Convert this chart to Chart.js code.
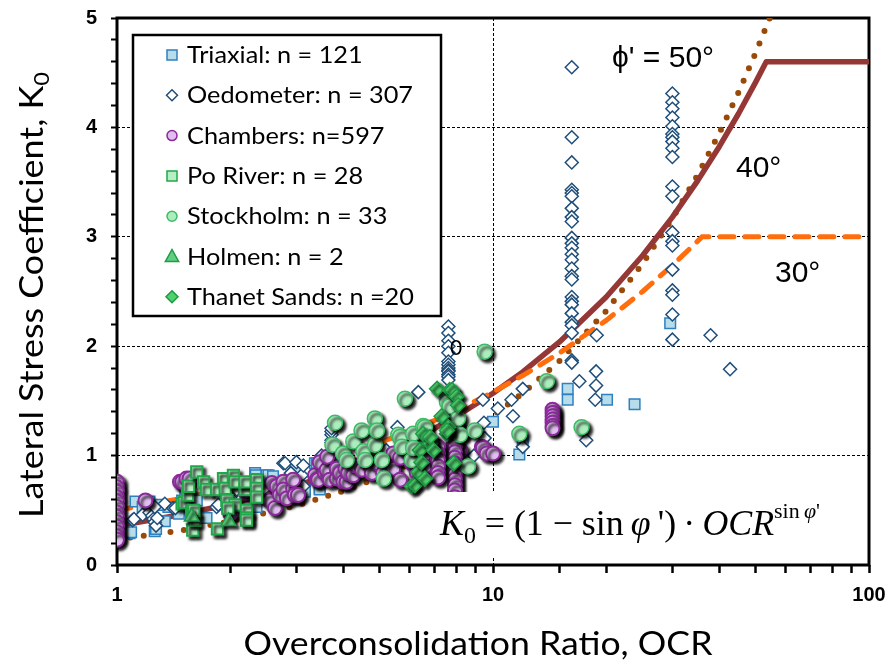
<!DOCTYPE html>
<html>
<head>
<meta charset="utf-8">
<script src="https://cdn.jsdelivr.net/npm/chart.js"></script>
<style>
html,body{margin:0;padding:0;background:#fff;}
#wrap{width:891px;height:664px;position:relative;}
</style>
</head>
<body>
<div id="wrap"><canvas id="c" width="891" height="664"></canvas></div>
<script>
// ---------- tick labels ----------
const xLabelValues = [1, 10, 100];
const yLabelValues = [0, 1, 2, 3, 4, 5];

// ---------- series: [OCR, K0] ----------
const triaxial = [[1.08,0.29],[1.09,0.30],[1.12,0.58],[1.17,0.53],[1.22,0.58],[1.26,0.31],[1.27,0.33],[1.30,0.55],[1.34,0.40],[1.37,0.53],[1.46,0.47],[1.49,0.59],[1.52,0.62],[1.56,0.62],[1.63,0.59],[1.71,0.43],[1.73,0.43],[2.02,0.69],[2.33,0.84],[2.34,0.82],[2.35,0.53],[2.42,0.62],[2.50,0.82],[2.53,0.82],[2.60,0.81],[2.88,0.78],[2.92,0.76],[2.98,0.87],[3.16,0.69],[3.16,0.67],[3.36,0.93],[3.40,0.93],[3.46,0.70],[3.46,0.69],[3.76,0.93],[4.25,0.84],[4.30,0.82],[4.85,0.82],[5.10,0.87],[10.0,1.31],[11.75,1.01],[12.0,1.13],[15.8,1.61],[15.8,1.51],[20.1,1.51],[23.8,1.47],[29.6,2.21]];

const oedometer = [[1.10,0.41],[1.11,0.42],[1.17,0.46],[1.22,0.48],[1.24,0.45],[1.25,0.42],[1.26,0.39],[1.27,0.36],[1.28,0.43],[1.26,0.53],[1.34,0.56],[1.41,0.52],[1.43,0.52],[1.84,0.53],[1.86,0.55],[2.08,0.68],[2.08,0.69],[2.47,0.70],[2.77,0.93],[2.80,0.93],[2.90,0.84],[3.0,0.94],[3.10,0.82],[3.13,0.91],[3.13,0.72],[3.5,1.0],[3.68,0.93],[3.72,1.12],[3.72,1.14],[3.72,1.19],[3.72,1.22],[3.72,1.25],[3.88,0.81],[5.2,1.05],[5.57,1.26],[6.33,1.58],
[7.61,2.18],[7.61,2.12],[7.61,2.05],[7.61,2.0],[7.61,1.94],[7.61,1.86],[7.61,1.83],[7.61,1.80],[7.61,1.78],[7.61,1.77],[7.61,1.74],[7.61,1.72],[7.61,1.69],[7.61,1.42],
[9.4,1.51],[9.46,1.30],[9.5,1.16],[8.9,1.0],[10.3,1.43],[11.2,1.51],[11.3,1.36],[12.0,1.61],[12.0,1.08],
[16.2,4.55],[16.2,3.91],[16.2,3.68],[16.2,3.43],[16.2,3.40],[16.2,3.37],[16.2,3.26],[16.2,3.18],[16.2,3.14],[16.2,2.99],[16.2,2.94],[16.2,2.90],[16.2,2.84],[16.2,2.79],[16.2,2.71],[16.2,2.64],[16.2,2.61],[16.2,2.45],[16.2,2.41],[16.2,2.38],[16.2,2.30],[16.2,2.22],[16.2,2.19],[16.2,2.12],[16.2,1.87],[16.2,1.85],
[16.97,1.68],[17.7,1.14],[18.87,2.10],[18.8,1.77],[18.8,1.64],[18.7,1.51],
[30,4.31],[30,4.23],[30,4.17],[30,4.09],[30,4.01],[30,3.94],[30,3.91],[30,3.87],[30,3.81],[30,3.73],[30,3.46],[30,3.37],[30,3.04],[30,2.96],[30,2.92],[30,2.70],[30,2.51],[30,2.47],[30,2.29],[30,2.06],
[37.9,2.10],[42.7,1.79]];

const chambers = [[1,0.76],[1,0.71],[1,0.67],[1,0.62],[1,0.58],[1,0.53],[1,0.48],[1,0.44],[1,0.39],[1,0.35],[1,0.30],[1,0.26],[1,0.23],
[1.19,0.59],[1.47,0.76],[1.49,0.76],[1.53,0.79],[1.56,0.79],[2.0,0.47],[2.20,0.66],[2.21,0.69],[2.54,0.59],[2.58,0.75],[2.63,0.52],[2.66,0.72],[2.71,0.64],[2.77,0.76],[2.77,0.69],[2.83,0.61],[2.94,0.70],[2.94,0.78],[2.97,0.64],[3.03,0.64],[3.36,0.82],[3.40,0.78],[3.43,0.78],[3.46,0.94],[3.57,0.84],[3.61,0.87],[3.62,0.99],[3.68,0.78],[3.84,0.79],[3.84,0.88],[3.92,0.84],[4.0,0.76],[4.05,0.88],[4.08,0.76],[4.12,0.84],[4.25,0.82],[4.30,0.91],[4.48,0.87],[4.62,0.94],[4.62,0.96],[4.76,0.84],[4.91,0.93],[5.1,0.84],[5.43,1.02],[5.43,0.88],[5.66,0.98],[5.66,0.78],[5.90,1.04],[6.08,0.93],[6.27,0.84],[6.52,0.99],[6.59,0.90],[6.87,1.11],[6.94,1.04],[7.16,0.93],[7.24,1.02],[7.78,1.22],[7.86,1.11],[8.17,1.05],[8.26,1.22],[9.34,1.08],[9.4,1.07],[9.62,1.02],[10.0,1.02],
[7.92,1.33],[7.92,1.28],[7.92,1.23],[7.92,1.18],[7.92,1.13],[7.92,1.08],[7.92,1.03],[7.92,0.98],[7.92,0.93],[7.92,0.88],[7.92,0.83],[7.92,0.78],[7.92,0.73],[7.92,0.68],[7.92,0.62],
[7.14,1.08],[7.14,1.02],[7.14,0.96],[7.14,0.90],[7.14,0.84],[7.14,0.80],
[14.4,1.42],[14.4,1.39],[14.4,1.36],[14.4,1.33],[14.4,1.30],[14.4,1.27],[14.4,1.25]];

const poRiver = [[1.49,0.56],[1.51,0.57],[1.54,0.64],[1.55,0.72],[1.58,0.49],[1.59,0.32],[1.61,0.41],[1.63,0.85],[1.70,0.76],[1.73,0.69],[1.84,0.69],[1.85,0.33],[1.92,0.79],[1.94,0.70],[1.96,0.59],[2.04,0.82],[2.06,0.55],[2.06,0.76],[2.19,0.69],[2.19,0.76],[2.21,0.50],[2.21,0.43],[2.35,0.78],[2.35,0.70],[2.35,0.62],[1.60,0.50],[1.97,0.52],[2.21,0.41]];

const stockholm = [[3.74,1.10],[3.80,1.30],[3.99,1.02],[4.08,0.96],[4.25,1.13],[4.47,1.23],[4.52,1.04],[4.57,0.96],[4.85,1.34],[4.85,1.10],[4.91,1.23],[5.06,0.96],[5.12,0.79],[5.60,1.19],[5.66,1.17],[5.72,1.08],[5.83,1.52],[6.08,0.96],[6.13,1.20],[6.13,1.07],[6.52,1.27],[6.59,1.26],[6.80,1.13],[7.54,1.49],[7.67,1.45],[8.07,1.34],[8.17,1.19],[8.58,0.90],[8.93,1.23],[9.5,1.95],[11.75,1.20],[13.9,1.68],[17.2,1.26]];

const holmen = [[1.58,0.44],[1.98,0.40]];

const thanet = [[6.08,0.72],[6.2,0.73],[6.33,0.85],[6.39,1.05],[6.45,0.94],[6.52,1.20],[6.59,0.79],[6.8,1.11],[6.8,1.17],[6.94,1.05],[7.1,1.61],[7.3,1.36],[7.54,1.20],[7.6,1.26],[7.67,1.60],[7.78,1.60],[7.86,0.93],[8.0,1.54],[8.07,1.46],[7.54,1.23]];

// ---------- curves K0 = (1 - sin phi') OCR^sin phi' ----------
const curve40 = [[1,0.357],[1.5,0.464],[2,0.558],[3,0.724],[4,0.871],[5,1.005],[6,1.130],[7,1.248],[8,1.360],[10,1.570],[12,1.765],[15,2.037],[20,2.450],[25,2.829],[30,3.180],[35,3.511],[40,3.826],[45,4.127],[50,4.416],[53.3,4.6],[100,4.6]];
const curve50 = [[1,0.234],[1.5,0.319],[2,0.398],[3,0.543],[4,0.677],[5,0.803],[6,0.923],[7,1.039],[8,1.151],[10,1.365],[12,1.570],[15,1.862],[20,2.322],[25,2.755],[30,3.167],[35,3.564],[40,3.948],[45,4.321],[50,4.685],[54.44,5.0]];
const curve30 = [[1,0.5],[1.5,0.612],[2,0.707],[3,0.866],[4,1.0],[5,1.118],[6,1.225],[7,1.323],[8,1.414],[10,1.581],[12,1.732],[15,1.936],[20,2.236],[25,2.5],[30,2.739],[36,3.0],[100,3.0]];

const legendLabels = ['Triaxial: n = 121','Oedometer: n = 307','Chambers: n=597','Po River: n = 28','Stockholm: n = 33','Holmen: n = 2','Thanet Sands: n =20'];

const pts = a => a.map(p => ({x: p[0], y: p[1]}));

const seriesStyles = [
  {label:legendLabels[0], data:triaxial, pointStyle:'rect', r:7.5, bg:'#B7DDEA', bd:'#2F80C0', bw:1.5, shadow:false, order:7},
  {label:legendLabels[1], data:oedometer, pointStyle:'rectRot', r:6.5, bg:'#FFFFFF', bd:'#1F4E79', bw:1.5, shadow:false, order:6},
  {label:legendLabels[2], data:chambers, pointStyle:'circle', r:7, bg:'#E2BDF0', bd:'#8A2A9A', bw:2, shadow:true, order:5},
  {label:legendLabels[3], data:poRiver, pointStyle:'rect', r:8, bg:'#B5F0C4', bd:'#1FA84A', bw:2, shadow:true, order:4},
  {label:legendLabels[4], data:stockholm, pointStyle:'circle', r:7.5, bg:'#ACEDBE', bd:'#3DBB66', bw:1.5, shadow:true, order:3},
  {label:legendLabels[5], data:holmen, pointStyle:'triangle', r:8.5, bg:'#60CF80', bd:'#1F9A48', bw:1.5, shadow:true, order:2},
  {label:legendLabels[6], data:thanet, pointStyle:'rectRot', r:7.5, bg:'#4ED16E', bd:'#1E9944', bw:1.5, shadow:true, order:1}
];

const datasets = [
  {label:'phi40', data:pts(curve40), showLine:true, pointRadius:0, borderColor:'#953735', borderWidth:5.5, borderJoinStyle:'round', fill:false, order:10, tension:0},
  {label:'phi50', data:pts(curve50), showLine:true, pointRadius:0, borderColor:'#9A4A08', borderWidth:6, borderDash:[0,13.5], borderCapStyle:'round', fill:false, order:11, tension:0},
  {label:'phi30', data:pts(curve30), showLine:true, pointRadius:0, borderColor:'#FF6D0D', borderWidth:5, borderDash:[14,11], borderCapStyle:'round', fill:false, order:9, tension:0}
];
seriesStyles.forEach(s => datasets.push({
  label:s.label, data:pts(s.data), showLine:false, pointStyle:s.pointStyle, pointRadius:s.r,
  pointBackgroundColor:s.bg, pointBorderColor:s.bd, pointBorderWidth:s.bw,
  backgroundColor:s.bg, borderColor:s.bd, shadow:s.shadow, order:s.order
}));

function isInt(v){ return Math.abs(v - Math.round(v)) < 1e-6; }

function drawMarker(ctx, style, x, y, r, fill, stroke, lw){
  ctx.beginPath();
  if (style === 'rect') { ctx.rect(x-r, y-r, 2*r, 2*r); }
  else if (style === 'rectRot') { ctx.moveTo(x, y-r); ctx.lineTo(x+r, y); ctx.lineTo(x, y+r); ctx.lineTo(x-r, y); ctx.closePath(); }
  else if (style === 'circle') { ctx.arc(x, y, r, 0, Math.PI*2); }
  else if (style === 'triangle') { ctx.moveTo(x, y-r); ctx.lineTo(x+r*0.95, y+r*0.7); ctx.lineTo(x-r*0.95, y+r*0.7); ctx.closePath(); }
  ctx.fillStyle = fill; ctx.fill();
  ctx.lineWidth = lw; ctx.strokeStyle = stroke; ctx.stroke();
}

const shadowPlugin = {
  id:'shadowPlugin',
  beforeDatasetDraw(chart, args){
    const ds = chart.data.datasets[args.index];
    if (ds.shadow) { const c = chart.ctx; c.save(); c.shadowColor='rgba(0,0,0,0.95)'; c.shadowBlur=3; c.shadowOffsetX=3; c.shadowOffsetY=3; }
  },
  afterDatasetDraw(chart, args){
    const ds = chart.data.datasets[args.index];
    if (ds.shadow) chart.ctx.restore();
  }
};

const framePlugin = {
  id:'framePlugin',
  beforeDatasetsDraw(chart){
    const {ctx, chartArea:a} = chart;
    ctx.save();
    ctx.strokeStyle = '#000'; ctx.lineWidth = 3;
    ctx.strokeRect(a.left, a.top, a.right - a.left, a.bottom - a.top);
    ctx.restore();
  }
};

const overlayPlugin = {
  id:'overlayPlugin',
  afterDatasetsDraw(chart){
    const ctx = chart.ctx;
    ctx.save();
    // formula box (white background)
    ctx.fillStyle = '#fff';
    ctx.fillRect(436, 492, 400, 64);
    const S = 36;
    const pieces = [
      {t:'K', f:'italic '+S+'px "Liberation Serif"', dy:0},
      {t:'0', f:Math.round(S*0.66)+'px "Liberation Serif"', dy:8},
      {t:' = (1 \u2212 sin\u2009', f:S+'px "Liberation Serif"', dy:0},
      {t:'\u03C6', f:'italic '+S+'px "Liberation Serif"', dy:0},
      {t:'\u2009\')\u2009\u00B7\u2009', f:S+'px "Liberation Serif"', dy:0},
      {t:'OCR', f:'italic '+S+'px "Liberation Serif"', dy:0},
      {t:'sin\u2009', f:Math.round(S*0.62)+'px "Liberation Serif"', dy:-17},
      {t:'\u03C6', f:'italic '+Math.round(S*0.62)+'px "Liberation Serif"', dy:-17},
      {t:'\'', f:Math.round(S*0.62)+'px "Liberation Serif"', dy:-17}
    ];
    let total = 0;
    pieces.forEach(p => { ctx.font = p.f; p.w = ctx.measureText(p.t).width; total += p.w; });
    const sx = 380 / total;
    ctx.fillStyle = '#000'; ctx.textBaseline = 'alphabetic'; ctx.textAlign = 'left';
    ctx.save(); ctx.translate(440, 535); ctx.scale(sx, 1);
    let cx = 0;
    pieces.forEach(p => { ctx.font = p.f; ctx.fillText(p.t, cx, p.dy); cx += p.w; });
    ctx.restore();

    // angle annotations
    ctx.font = '30px "Liberation Sans"';
    ctx.fillText('\u03D5\' = 50\u00B0', 612, 67);
    ctx.fillText('40\u00B0', 736, 177);
    ctx.fillText('30\u00B0', 775, 282);
    // stray label
    ctx.font = '21px Lato';
    ctx.fillText('0', 450, 355);

    // legend
    ctx.fillStyle = '#fff';
    ctx.fillRect(133, 35, 308, 281);
    ctx.strokeStyle = '#000'; ctx.lineWidth = 2.5;
    ctx.strokeRect(133, 35, 308, 281);
    ctx.font = '23px Lato';
    const ref = ctx.measureText(legendLabels[1]).width;
    const lsx = 226 / ref;
    const legendR = [5, 5.5, 5, 5, 5, 7, 6];
    seriesStyles.forEach((s, i) => {
      const y = 55 + i * 40.3;
      drawMarker(ctx, s.pointStyle, 172, y, legendR[i], s.bg, s.bd, 1.5);
      ctx.fillStyle = '#000';
      ctx.save(); ctx.translate(187, y + 8); ctx.scale(lsx, 1);
      ctx.fillText(s.label, 0, 0);
      ctx.restore();
    });
    ctx.restore();
  },
  afterDraw(chart){
    const ctx = chart.ctx;
    ctx.save();
    ctx.fillStyle = '#000'; ctx.textBaseline = 'alphabetic'; ctx.textAlign = 'left';
    // x title
    ctx.font = '32px Lato';
    const xt = 'Overconsolidation Ratio, OCR';
    const xw = ctx.measureText(xt).width;
    ctx.save(); ctx.translate(478 - 469/2, 655); ctx.scale(469 / xw, 1); ctx.fillText(xt, 0, 0); ctx.restore();
    // y title (rotated, with subscript)
    const yt = 'Lateral Stress Coefficient, K';
    ctx.font = '32px Lato';
    const w1 = ctx.measureText(yt).width;
    ctx.font = '21px Lato';
    const w2 = ctx.measureText('0').width;
    const sy = 446 / (w1 + w2);
    ctx.save(); ctx.translate(43, 518); ctx.rotate(-Math.PI/2); ctx.scale(sy, 1);
    ctx.font = '32px Lato'; ctx.fillText(yt, 0, 0);
    ctx.font = '21px Lato'; ctx.fillText('0', w1, 6);
    ctx.restore();
    ctx.restore();
  }
};

const chart = new Chart(document.getElementById('c').getContext('2d'), {
  type:'scatter',
  data:{datasets},
  options:{
    responsive:false, animation:false, devicePixelRatio:1, events:[],
    layout:{padding:{left:0, top:18, right:22, bottom:0}},
    plugins:{legend:{display:false}, tooltip:{enabled:false}},
    scales:{
      x:{
        type:'logarithmic', min:1, max:100,
        afterFit(s){ s.height = 99; s.paddingLeft = 0; s.paddingRight = 0; },
        border:{display:false, dash:[3,2]},
        grid:{
          color:c => (c.tick && Math.abs(c.tick.value - 10) < 1e-9) ? '#000' : 'rgba(0,0,0,0)',
          lineWidth:1, drawTicks:true, tickLength:8, tickWidth:2.5, tickColor:'#000'
        },
        ticks:{
          autoSkip:false, maxRotation:0, minRotation:0, padding:10, color:'#000',
          font:{family:'"Liberation Sans"', weight:'bold', size:20},
          callback:(v) => xLabelValues.some(t => Math.abs(t - v) < 1e-9) ? String(v) : ''
        }
      },
      y:{
        min:0, max:5,
        afterFit(s){ s.width = 117; s.paddingTop = 0; s.paddingBottom = 0; },
        border:{display:false, dash:[3,2]},
        grid:{
          color:c => (c.tick && isInt(c.tick.value) && c.tick.value > 0.5 && c.tick.value < 4.5) ? '#000' : 'rgba(0,0,0,0)',
          lineWidth:1, drawTicks:true, tickLength:6, tickWidth:2, tickColor:'#000'
        },
        ticks:{
          stepSize:0.2, autoSkip:false, padding:14, color:'#000',
          font:{family:'"Liberation Sans"', weight:'bold', size:20},
          callback:(v) => (isInt(v) && yLabelValues.includes(Math.round(v))) ? String(Math.round(v)) : ''
        }
      }
    }
  },
  plugins:[shadowPlugin, framePlugin, overlayPlugin]
});
</script>
</body>
</html>
